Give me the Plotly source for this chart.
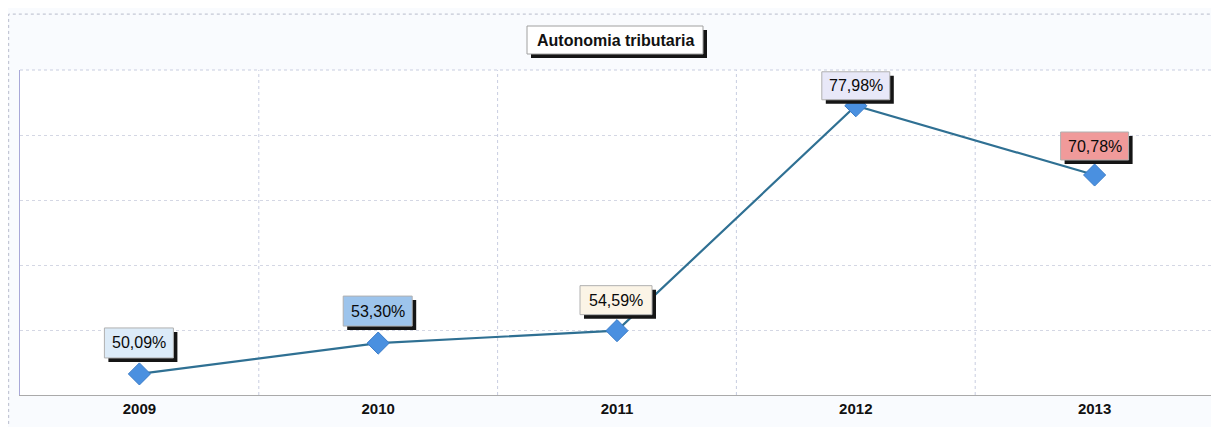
import plotly.graph_objects as go

years = ["2009", "2010", "2011", "2012", "2013"]
values = [50.09, 53.30, 54.59, 77.98, 70.78]
labels = ["50,09%", "53,30%", "54,59%", "77,98%", "70,78%"]
label_colors = ["#dcebf8", "#9dc4ec", "#fbf4e6", "#e8e8f8", "#f09a9a"]
# label box offsets (pixels, relative to the point): left, right, bottom, top
label_boxes = [(-35, 34, 16, 46), (-35, 34, 17, 47), (-37, 35, 16, 45),
               (-34, 34, 6, 34), (-34, 34, 15, 43)]

x = list(range(len(years)))
fig = go.Figure()
fig.add_trace(go.Scatter(
    x=x, y=values, mode="lines+markers",
    line=dict(color="#2f7093", width=2.2),
    marker=dict(symbol="diamond", size=17, color="#4a90e0",
                line=dict(color="#3a7cc8", width=1)),
    hoverinfo="skip", showlegend=False,
))

sh = 4
for xi, v, t, c, (l, r, b, tp) in zip(x, values, labels, label_colors, label_boxes):
    fig.add_shape(type="rect", xref="x", yref="y", xsizemode="pixel", ysizemode="pixel",
                  xanchor=xi, yanchor=v, x0=l + sh, x1=r + sh, y0=b - sh, y1=tp - sh,
                  fillcolor="#151515", line=dict(width=0))
    fig.add_shape(type="rect", xref="x", yref="y", xsizemode="pixel", ysizemode="pixel",
                  xanchor=xi, yanchor=v, x0=l, x1=r, y0=b, y1=tp,
                  fillcolor=c, line=dict(color="#b0b0b0", width=1))
    fig.add_annotation(x=xi, y=v, text=t, showarrow=False, xshift=(l + r) / 2,
                       yshift=(b + tp) / 2, font=dict(color="#0a0a0a", size=16, family="Arial"))

# title box with shadow
fig.add_shape(type="rect", xref="paper", yref="paper", xsizemode="pixel", ysizemode="pixel",
              xanchor=0, yanchor=1, x0=507 + sh, x1=683 + sh, y0=16 - sh, y1=44 - sh,
              fillcolor="#151515", line=dict(width=0))
fig.add_shape(type="rect", xref="paper", yref="paper", xsizemode="pixel", ysizemode="pixel",
              xanchor=0, yanchor=1, x0=507, x1=683, y0=16, y1=44,
              fillcolor="white", line=dict(color="#a0a0a0", width=1))
fig.add_annotation(xref="paper", yref="paper", x=0, y=1, xanchor="center", yanchor="middle",
                   xshift=595, yshift=30, text="<b>Autonomia tributaria</b>", showarrow=False,
                   font=dict(color="#111", size=16, family="Arial"))

# vertical grid lines at category boundaries
for bnd in [0.5, 1.5, 2.5, 3.5]:
    fig.add_shape(type="line", xref="x", yref="paper", x0=bnd, x1=bnd, y0=0, y1=1,
                  line=dict(color="#c8cde0", width=1, dash="dot"), layer="below")
# top and right plot edges
fig.add_shape(type="line", xref="paper", yref="paper", x0=0, x1=1, y0=1, y1=1,
              line=dict(color="#c8cde0", width=1, dash="dot"), layer="below")
fig.add_shape(type="line", xref="paper", yref="paper", x0=1, x1=1, y0=0, y1=1,
              line=dict(color="#b8bcd0", width=1, dash="dot"), layer="below")

# outer frame
fig.add_shape(type="rect", xref="paper", yref="paper", x0=-0.0095, x1=1.0017, y0=-0.3, y1=1.172,
              line=dict(color="#b8bccc", width=1, dash="dot"), fillcolor="rgba(0,0,0,0)",
              layer="below")

fig.update_layout(
    width=1211, height=419,
    margin=dict(l=12, r=5, t=62, b=32),
    paper_bgcolor="#f9fbfe", plot_bgcolor="white",
    xaxis=dict(range=[-0.5, 4.5], tickvals=x, ticktext=[f"<b>{y}</b>" for y in years],
               showgrid=False, zeroline=False, showline=True, linecolor="#aaaaaa",
               ticks="", tickfont=dict(size=15, family="Arial", color="#111")),
    yaxis=dict(range=[47.9, 81.7], tick0=47.9, dtick=6.76, showticklabels=False,
               showgrid=True, gridcolor="#d4d7e4", griddash="dot", zeroline=False,
               showline=True, linecolor="#a8a8d8"),
)

fig.write_html("out.html")
